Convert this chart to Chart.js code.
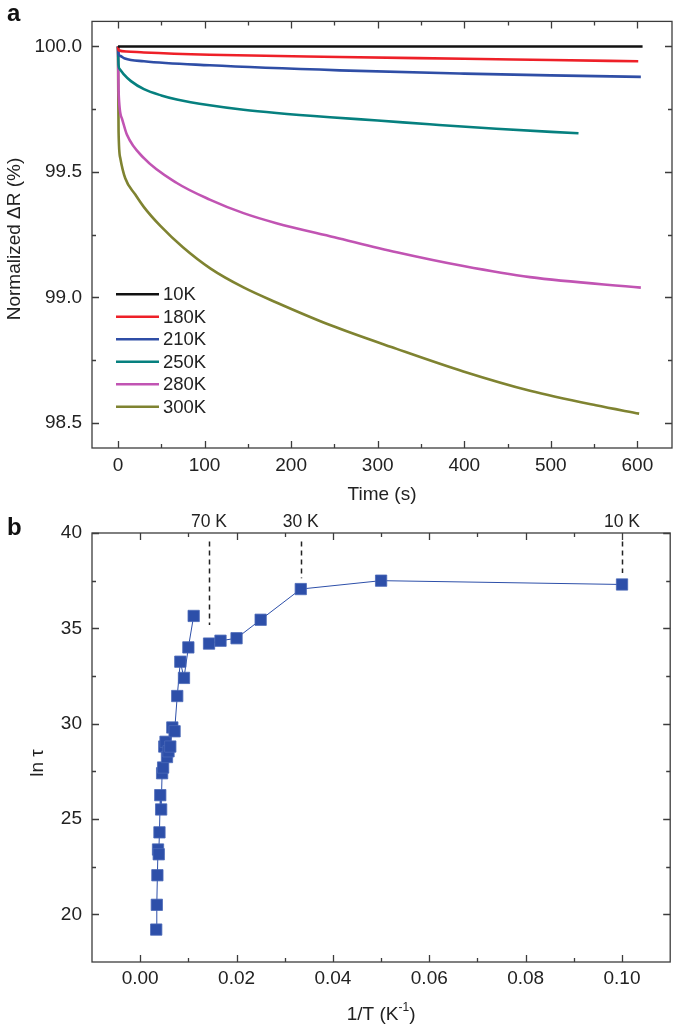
<!DOCTYPE html>
<html>
<head>
<meta charset="utf-8">
<script src="https://cdn.jsdelivr.net/npm/chart.js@4.4.1/dist/chart.umd.min.js"></script>
<style>
  html, body { margin: 0; padding: 0; background: #ffffff; }
  #wrap { position: relative; width: 679px; height: 1030px; overflow: hidden; }
  canvas { position: absolute; left: 0; }
  #cA { top: 0; }
  #cB { top: 510px; }
</style>
</head>
<body>
<div id="wrap">
  <canvas id="cA" width="679" height="510"></canvas>
  <canvas id="cB" width="679" height="520"></canvas>
</div>
<script>
// ---------------- Panel a data (Time in s, normalized ΔR in %) ----------------
const seriesLabels = ['10K', '180K', '210K', '250K', '280K', '300K'];

const t10K   = [0, 100, 200, 300, 400, 500, 606];
const r10K   = [100, 100, 100, 100, 100, 100, 100];

const t180K  = [0, 0.7, 10, 30, 106, 256, 400, 500, 601];
const r180K  = [100, 99.985, 99.98, 99.976, 99.967, 99.958, 99.951, 99.946, 99.941];

const t210K  = [0, 0.7, 3, 8, 30, 106, 256, 400, 500, 604];
const r210K  = [100, 99.971, 99.962, 99.952, 99.941, 99.925, 99.905, 99.892, 99.885, 99.879];

const t250K  = [0, 0.7, 2, 6.5, 15, 30, 50, 68, 106, 145, 183, 245, 300, 360, 437, 532];
const r250K  = [100, 99.925, 99.91, 99.89, 99.862, 99.83, 99.805, 99.789, 99.766, 99.748, 99.735, 99.718, 99.705, 99.69, 99.672, 99.654];

const t280K  = [0, 0.7, 4.6, 10.4, 30, 68, 106, 145, 183, 250, 322, 399, 476, 604];
const r280K  = [100, 99.82, 99.713, 99.648, 99.555, 99.456, 99.39, 99.336, 99.296, 99.24, 99.18, 99.125, 99.081, 99.039];

const t300K  = [0, 0.7, 2.7, 8.4, 20, 30, 49, 75, 107, 145, 183, 245, 322, 399, 476, 552, 602];
const r300K  = [100, 99.66, 99.555, 99.475, 99.41, 99.36, 99.285, 99.2, 99.115, 99.04, 98.98, 98.89, 98.795, 98.705, 98.628, 98.57, 98.537];

const aXTicks = [0, 100, 200, 300, 400, 500, 600];
const aXMinor = [50, 150, 250, 350, 450, 550];
const aYTicks = [98.5, 99.0, 99.5, 100.0];
const aYMinor = [98.75, 99.25, 99.75];

// ---------------- Panel b data (1/T in K^-1, ln tau) ----------------
const invTHigh  = [0.00333, 0.00345, 0.00357, 0.0037, 0.00385, 0.004, 0.00417, 0.00435, 0.00455, 0.00476, 0.005, 0.00526, 0.00556, 0.00588, 0.00625, 0.00667, 0.00714, 0.00769, 0.00833, 0.00909, 0.01, 0.0111];
const lnTauHigh = [19.2, 20.5, 22.05, 23.4, 23.15, 24.3, 26.25, 25.5, 27.4, 27.7, 28.8, 29.05, 28.25, 28.55, 28.8, 29.8, 29.6, 31.45, 33.25, 32.4, 34.0, 35.65];

const invTLow   = [0.01429, 0.01667, 0.02, 0.025, 0.03333, 0.05, 0.1];
const lnTauLow  = [34.2, 34.35, 34.48, 35.45, 37.06, 37.5, 37.3];

const annLabels = ['70 K', '30 K', '10 K'];
const annX      = [0.01429, 0.03333, 0.1];
const annYTop   = [39.56, 39.56, 39.56];
const annYBot   = [35.18, 37.63, 37.9];

const bXTicks = [0.00, 0.02, 0.04, 0.06, 0.08, 0.10];
const bXMinor = [0.01, 0.03, 0.05, 0.07, 0.09];
const bYTicks = [20, 25, 30, 35, 40];
const bYMinor = [22.5, 27.5, 32.5, 37.5];

// ---------------- Styling ----------------
const FONT = '"Liberation Sans", Arial, Helvetica, sans-serif';
const TXT = '#222222';
const FRAME = '#3c3c3c';
const FS = 19;
const seriesColors = ['#111111', '#ee2028', '#2f4ea6', '#06807f', '#c154b3', '#7f8331'];

function zipXY(xs, ys) { return xs.map((x, i) => ({ x: x, y: ys[i] })); }

function frameTicks(chart, xMaj, xMin, yMaj, yMin) {
  const ctx = chart.ctx;
  const { left, right, top, bottom } = chart.chartArea;
  const sx = chart.scales.x, sy = chart.scales.y;
  ctx.save();
  ctx.strokeStyle = FRAME;
  ctx.lineWidth = 1.3;
  ctx.strokeRect(left, top, right - left, bottom - top);
  ctx.beginPath();
  const mk = (vals, len, isX) => {
    vals.forEach(v => {
      if (isX) {
        const p = Math.round(sx.getPixelForValue(v)) + 0.5;
        ctx.moveTo(p, bottom); ctx.lineTo(p, bottom - len);
        ctx.moveTo(p, top); ctx.lineTo(p, top + len);
      } else {
        const p = Math.round(sy.getPixelForValue(v)) + 0.5;
        ctx.moveTo(left, p); ctx.lineTo(left + len, p);
        ctx.moveTo(right, p); ctx.lineTo(right - len, p);
      }
    });
  };
  mk(xMaj, 7, true); mk(xMin, 4, true);
  mk(yMaj, 7, false); mk(yMin, 4, false);
  ctx.stroke();
  ctx.restore();
}

function setTicks(list) {
  return function (scale) { scale.ticks = list.map(v => ({ value: v })); };
}

// ---------------- Chart A ----------------
const tList = [t10K, t180K, t210K, t250K, t280K, t300K];
const rList = [r10K, r180K, r210K, r250K, r280K, r300K];

const dsA = seriesLabels.map((lab, i) => ({
  label: lab,
  data: zipXY(tList[i], rList[i]),
  borderColor: seriesColors[i],
  backgroundColor: seriesColors[i],
  borderWidth: 2.6,
  pointRadius: 0,
  cubicInterpolationMode: 'monotone',
  fill: false
}));

const pluginA = {
  id: 'decorA',
  afterDatasetsDraw(chart) {
    frameTicks(chart, aXTicks, aXMinor, aYTicks, aYMinor);
    const ctx = chart.ctx;
    ctx.save();
    // legend
    ctx.font = '18.5px ' + FONT;
    ctx.textBaseline = 'middle';
    ctx.textAlign = 'left';
    chart.data.datasets.forEach((d, i) => {
      const y = 294.3 + 22.5 * i;
      ctx.strokeStyle = d.borderColor;
      ctx.lineWidth = 2.6;
      ctx.beginPath(); ctx.moveTo(116, y); ctx.lineTo(159, y); ctx.stroke();
      ctx.fillStyle = TXT;
      ctx.fillText(d.label, 163, y + 1);
    });
    // y title
    ctx.save();
    ctx.font = FS + 'px ' + FONT;
    ctx.translate(15, 239);
    ctx.rotate(-Math.PI / 2);
    ctx.textAlign = 'center';
    ctx.fillText('Normalized \u0394R (%)', 0, 0);
    ctx.restore();
    // panel label
    ctx.font = 'bold 24px ' + FONT;
    ctx.textBaseline = 'alphabetic';
    ctx.fillStyle = '#111';
    ctx.fillText('a', 7, 21);
    ctx.restore();
  }
};

new Chart(document.getElementById('cA'), {
  type: 'line',
  data: { datasets: dsA },
  options: {
    responsive: false,
    animation: false,
    devicePixelRatio: 1,
    layout: { padding: { top: 19, right: 7, left: 0, bottom: 0 } },
    plugins: { legend: { display: false }, tooltip: { enabled: false } },
    scales: {
      x: {
        type: 'linear', min: -30, max: 640,
        afterBuildTicks: setTicks(aXTicks),
        afterFit: s => { s.height = 62; },
        grid: { display: false, drawTicks: false },
        border: { display: false },
        ticks: { font: { family: FONT, size: FS }, color: TXT, padding: 6, maxRotation: 0, autoSkip: false, callback: v => String(v) },
        title: { display: true, text: 'Time (s)', font: { family: FONT, size: FS }, color: TXT, padding: { top: 0, bottom: 4 } }
      },
      y: {
        type: 'linear', min: 98.4, max: 100.1,
        afterBuildTicks: setTicks(aYTicks),
        afterFit: s => { s.width = 92; },
        grid: { display: false, drawTicks: false },
        border: { display: false },
        ticks: { font: { family: FONT, size: FS }, color: TXT, padding: 10, autoSkip: false, callback: v => v.toFixed(1) }
      }
    }
  },
  plugins: [pluginA]
});

// ---------------- Chart B ----------------
const markerColor = '#2d4fa9';
const pluginB = {
  id: 'decorB',
  beforeDatasetsDraw(chart) {
    const ctx = chart.ctx;
    const sx = chart.scales.x, sy = chart.scales.y;
    ctx.save();
    ctx.strokeStyle = '#222';
    ctx.lineWidth = 1.5;
    ctx.setLineDash([5, 4]);
    annX.forEach((xv, i) => {
      const px = Math.round(sx.getPixelForValue(xv)) + 0.5;
      ctx.beginPath();
      ctx.moveTo(px, sy.getPixelForValue(annYTop[i]));
      ctx.lineTo(px, sy.getPixelForValue(annYBot[i]));
      ctx.stroke();
    });
    ctx.restore();
  },
  afterDatasetsDraw(chart) {
    frameTicks(chart, bXTicks, bXMinor, bYTicks, bYMinor);
    const ctx = chart.ctx;
    const sx = chart.scales.x;
    const { left, right } = chart.chartArea;
    ctx.save();
    ctx.fillStyle = TXT;
    ctx.font = '17.5px ' + FONT;
    ctx.textAlign = 'center';
    ctx.textBaseline = 'middle';
    annX.forEach((xv, i) => ctx.fillText(annLabels[i], sx.getPixelForValue(xv), 12));
    // x title with superscript
    const cx = (left + right) / 2, ty = 505;
    const p1 = '1/T (K', sup = '-1', p3 = ')';
    ctx.font = FS + 'px ' + FONT;
    const w1 = ctx.measureText(p1).width, w3 = ctx.measureText(p3).width;
    ctx.font = '12px ' + FONT;
    const w2 = ctx.measureText(sup).width;
    let x0 = cx - (w1 + w2 + w3) / 2;
    ctx.textAlign = 'left';
    ctx.font = FS + 'px ' + FONT;
    ctx.fillText(p1, x0, ty);
    ctx.font = '12px ' + FONT;
    ctx.fillText(sup, x0 + w1, ty - 7);
    ctx.font = FS + 'px ' + FONT;
    ctx.fillText(p3, x0 + w1 + w2, ty);
    // y title
    ctx.save();
    ctx.translate(38, 253);
    ctx.rotate(-Math.PI / 2);
    ctx.textAlign = 'center';
    ctx.fillText('ln \u03c4', 0, 0);
    ctx.restore();
    // panel label
    ctx.font = 'bold 24px ' + FONT;
    ctx.textAlign = 'left';
    ctx.textBaseline = 'alphabetic';
    ctx.fillStyle = '#111';
    ctx.fillText('b', 7, 25);
    ctx.restore();
  }
};

const ptStyle = {
  borderColor: markerColor,
  backgroundColor: markerColor,
  borderWidth: 1,
  pointStyle: 'rect',
  pointRadius: 8,
  pointBackgroundColor: markerColor,
  pointBorderColor: '#4a68b8',
  pointBorderWidth: 0.8,
  tension: 0,
  fill: false,
  clip: false
};

new Chart(document.getElementById('cB'), {
  type: 'line',
  data: {
    datasets: [
      Object.assign({ label: 'high T', data: zipXY(invTHigh, lnTauHigh) }, ptStyle),
      Object.assign({ label: 'low T', data: zipXY(invTLow, lnTauLow) }, ptStyle)
    ]
  },
  options: {
    responsive: false,
    animation: false,
    devicePixelRatio: 1,
    layout: { padding: { top: 23, right: 7, left: 0, bottom: 0 } },
    plugins: { legend: { display: false }, tooltip: { enabled: false } },
    scales: {
      x: {
        type: 'linear', min: -0.01, max: 0.11,
        afterBuildTicks: setTicks(bXTicks),
        afterFit: s => { s.height = 68; },
        grid: { display: false, drawTicks: false },
        border: { display: false },
        ticks: { font: { family: FONT, size: FS }, color: TXT, padding: 5, maxRotation: 0, autoSkip: false, callback: v => v.toFixed(2) }
      },
      y: {
        type: 'linear', min: 17.5, max: 40,
        afterBuildTicks: setTicks(bYTicks),
        afterFit: s => { s.width = 92; },
        grid: { display: false, drawTicks: false },
        border: { display: false },
        ticks: { font: { family: FONT, size: FS }, color: TXT, padding: 10, autoSkip: false, callback: v => String(v) }
      }
    }
  },
  plugins: [pluginB]
});
</script>
</body>
</html>
